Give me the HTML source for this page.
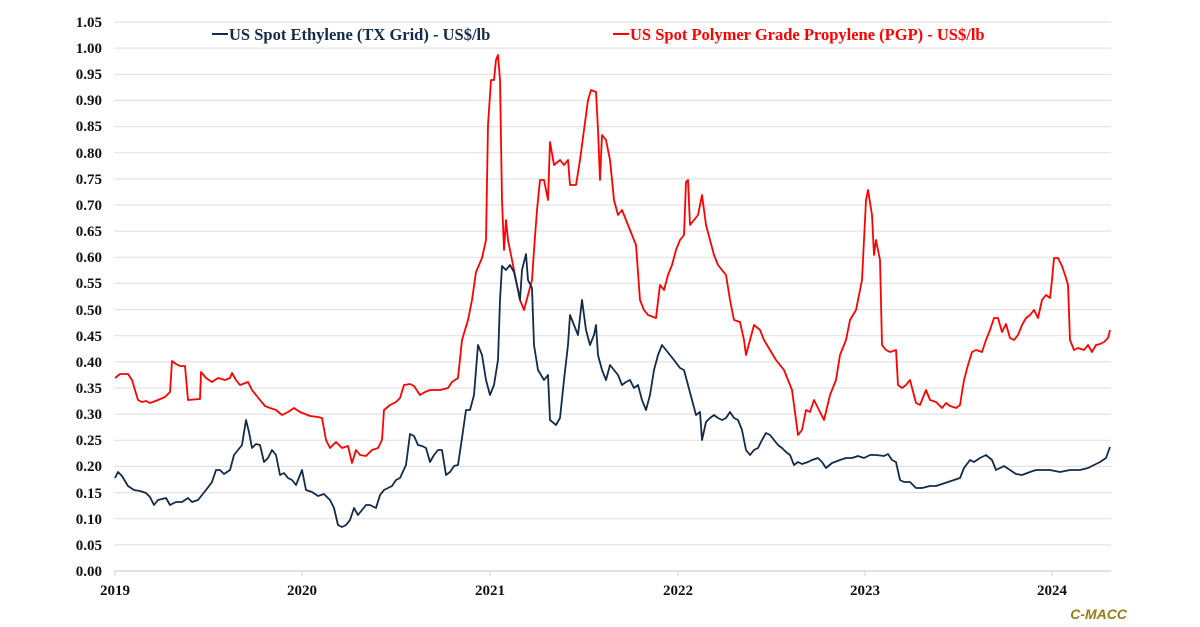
<!DOCTYPE html>
<html><head><meta charset="utf-8"><style>
html,body{margin:0;padding:0;background:#fff;}
svg{display:block}
.t{font-family:"Liberation Serif",serif;font-weight:bold;font-size:15px;fill:#111}
.lg{font-family:"Liberation Serif",serif;font-weight:bold;font-size:16.5px}
</style></head><body>
<svg width="1200" height="627" viewBox="0 0 1200 627" xmlns="http://www.w3.org/2000/svg">
<g stroke="#e3e3e3" stroke-width="1.2">
<line x1="114" x2="1111" y1="22" y2="22"/><line x1="114" x2="1111" y1="48.1" y2="48.1"/><line x1="114" x2="1111" y1="74.3" y2="74.3"/><line x1="114" x2="1111" y1="100.4" y2="100.4"/><line x1="114" x2="1111" y1="126.6" y2="126.6"/><line x1="114" x2="1111" y1="152.7" y2="152.7"/><line x1="114" x2="1111" y1="178.9" y2="178.9"/><line x1="114" x2="1111" y1="205" y2="205"/><line x1="114" x2="1111" y1="231.1" y2="231.1"/><line x1="114" x2="1111" y1="257.3" y2="257.3"/><line x1="114" x2="1111" y1="283.4" y2="283.4"/><line x1="114" x2="1111" y1="309.6" y2="309.6"/><line x1="114" x2="1111" y1="335.7" y2="335.7"/><line x1="114" x2="1111" y1="361.9" y2="361.9"/><line x1="114" x2="1111" y1="388" y2="388"/><line x1="114" x2="1111" y1="414.1" y2="414.1"/><line x1="114" x2="1111" y1="440.3" y2="440.3"/><line x1="114" x2="1111" y1="466.4" y2="466.4"/><line x1="114" x2="1111" y1="492.6" y2="492.6"/><line x1="114" x2="1111" y1="518.7" y2="518.7"/><line x1="114" x2="1111" y1="544.9" y2="544.9"/>
</g>
<line x1="114" x2="1111" y1="571" y2="571" stroke="#d0d0d0" stroke-width="1.2"/>
<g stroke="#d0d0d0"><line x1="115" x2="115" y1="571" y2="576"/><line x1="302" x2="302" y1="571" y2="576"/><line x1="490" x2="490" y1="571" y2="576"/><line x1="678" x2="678" y1="571" y2="576"/><line x1="865" x2="865" y1="571" y2="576"/><line x1="1052" x2="1052" y1="571" y2="576"/></g>
<g class="t" text-anchor="end">
<text x="102" y="27">1.05</text><text x="102" y="53">1.00</text><text x="102" y="79">0.95</text><text x="102" y="105">0.90</text><text x="102" y="131">0.85</text><text x="102" y="158">0.80</text><text x="102" y="184">0.75</text><text x="102" y="210">0.70</text><text x="102" y="236">0.65</text><text x="102" y="262">0.60</text><text x="102" y="288">0.55</text><text x="102" y="315">0.50</text><text x="102" y="341">0.45</text><text x="102" y="367">0.40</text><text x="102" y="393">0.35</text><text x="102" y="419">0.30</text><text x="102" y="445">0.25</text><text x="102" y="471">0.20</text><text x="102" y="498">0.15</text><text x="102" y="524">0.10</text><text x="102" y="550">0.05</text><text x="102" y="576">0.00</text>
</g>
<g class="t" text-anchor="middle">
<text x="115" y="595">2019</text><text x="302" y="595">2020</text><text x="490" y="595">2021</text><text x="678" y="595">2022</text><text x="865" y="595">2023</text><text x="1052" y="595">2024</text>
</g>
<polyline fill="none" stroke="#ff0000" stroke-width="1.8" stroke-linejoin="round" points="115,378 120,374 128,374 132,380 138,400 142,402 146,401 150,403 158,400 165,397 170,392 172,361 176,364 180,366 185,366 188,400 200,399 201,372 206,378 212,382 218,378 225,380 230,378 232,373 236,380 240,385 248,382 252,390 256,395 260,400 265,406 270,408 276,410 282,415 288,412 294,408 300,412 310,416 318,417 322,418 326,440 330,448 336,442 342,448 348,446 352,463 356,450 360,455 366,456 372,450 378,448 382,440 384,410 390,405 396,402 400,398 404,385 410,384 414,386 420,395 425,392 430,390 440,390 448,388 452,382 458,378 462,340 468,320 472,300 476,272 482,258 486,240 488,125 491,80 494,80 496,60 498,55 500,80 502,200 504,250 506,220 508,240 512,260 516,280 520,300 524,310 528,295 532,280 534,250 537,210 540,180 544,180 548,200 550,142 554,165 560,160 564,165 568,160 570,185 576,185 580,160 584,130 588,100 591,90 596,92 598,130 600,180 602,135 606,140 610,160 614,200 618,215 622,210 628,225 632,235 636,245 640,300 644,310 648,315 656,318 660,285 664,290 668,275 672,265 676,250 680,240 684,235 686,182 688,180 690,225 694,220 698,215 702,195 706,225 710,240 714,255 718,265 722,270 726,275 730,300 734,320 740,322 744,340 746,355 750,340 754,325 760,330 764,340 770,350 776,360 780,365 784,370 788,380 792,390 796,420 798,435 802,430 806,410 810,412 814,400 818,408 824,420 830,395 836,380 840,355 846,340 850,320 856,310 862,280 866,200 868,190 872,215 874,255 876,240 880,260 882,345 886,350 890,352 896,350 898,385 902,388 906,385 910,380 916,403 920,405 926,390 930,400 936,402 942,408 946,403 950,406 956,408 960,405 964,380 968,365 972,352 976,350 982,352 986,340 990,330 994,318 998,318 1002,332 1006,324 1010,338 1014,340 1018,335 1022,325 1026,318 1030,315 1034,310 1038,318 1042,300 1046,295 1050,298 1052,280 1054,258 1058,258 1062,266 1066,278 1068,285 1070,340 1074,350 1078,348 1084,350 1088,345 1092,352 1096,345 1100,344 1104,342 1108,338 1110,330"/>
<polyline fill="none" stroke="#132b48" stroke-width="1.8" stroke-linejoin="round" points="115,478 118,472 122,476 128,486 134,490 140,491 146,493 150,497 154,505 158,500 162,499 166,498 170,505 176,502 182,502 188,498 192,502 198,500 202,495 206,490 212,482 216,470 220,470 224,474 230,470 234,455 238,450 242,445 246,420 249,432 252,448 256,444 260,445 264,462 268,458 272,450 276,455 280,475 284,473 288,478 292,480 296,485 300,475 302,470 306,490 312,492 318,496 324,494 330,500 334,508 338,525 342,527 346,525 350,520 354,508 358,515 362,510 366,505 370,505 376,508 380,495 384,490 388,488 392,486 396,480 400,478 406,465 410,434 414,436 418,445 422,446 426,448 430,462 434,455 438,450 442,450 446,475 450,472 454,466 458,465 462,438 466,410 470,410 474,395 478,345 482,355 486,380 490,395 494,385 498,360 500,300 502,266 506,270 510,265 514,272 518,290 520,300 522,270 526,254 528,280 532,288 534,345 538,370 544,380 548,375 550,420 556,425 560,418 564,380 568,345 570,315 574,325 578,335 582,300 586,330 590,345 594,335 596,325 598,355 602,370 606,380 610,365 614,370 618,375 622,385 626,382 630,380 634,388 638,385 642,400 646,410 650,395 654,370 658,355 662,345 666,350 670,355 674,360 680,368 684,370 688,385 692,400 696,415 700,412 702,440 706,422 710,418 714,415 718,418 722,420 726,418 730,412 734,418 738,420 742,430 746,450 750,455 754,450 758,448 762,440 766,433 770,435 774,440 778,445 782,448 786,452 790,455 794,465 798,462 802,464 808,462 812,460 818,458 822,462 826,468 832,463 840,460 846,458 852,458 858,456 864,458 870,455 876,455 884,456 888,454 892,460 896,462 900,480 904,482 910,482 916,488 922,488 930,486 936,486 942,484 948,482 954,480 960,478 964,468 970,460 974,462 980,458 986,455 992,460 996,470 1000,468 1004,466 1010,470 1016,474 1022,475 1030,472 1036,470 1042,470 1050,470 1060,472 1070,470 1080,470 1088,468 1094,465 1100,462 1106,458 1110,447"/>
<line x1="212" x2="228" y1="34" y2="34" stroke="#132b48" stroke-width="2"/>
<text class="lg" x="229" y="40" fill="#132b48">US Spot Ethylene (TX Grid) - US$/lb</text>
<line x1="613" x2="629" y1="34" y2="34" stroke="#ff0000" stroke-width="2"/>
<text class="lg" x="630" y="40" fill="#ff0000">US Spot Polymer Grade Propylene (PGP) - US$/lb</text>
<text x="1127" y="619" text-anchor="end" font-family="Liberation Sans,sans-serif" font-style="italic" font-weight="bold" font-size="14" fill="#9a7a12">C-MACC</text>
</svg>
</body></html>
